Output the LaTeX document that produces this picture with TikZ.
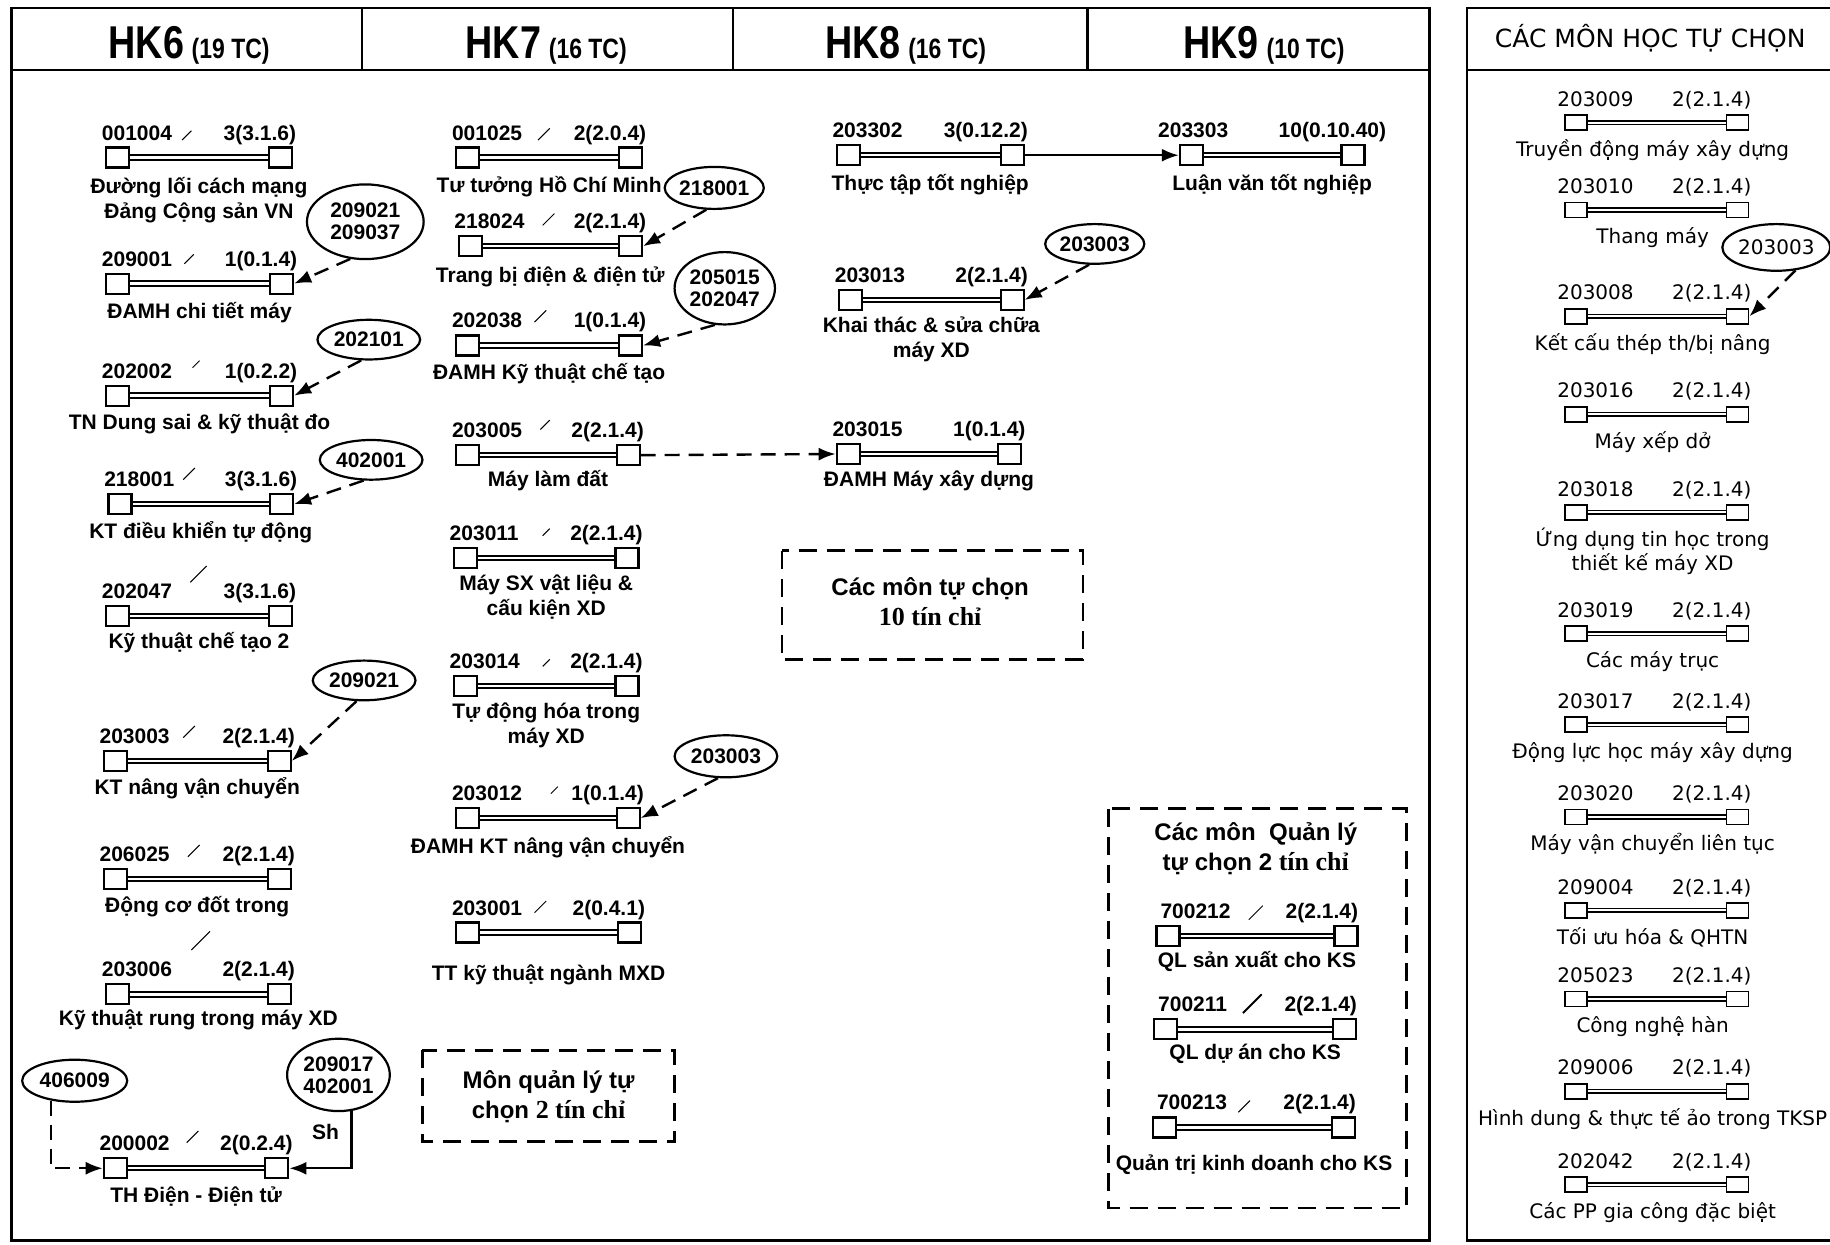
\documentclass[tikz,border=0pt]{standalone}
\usepackage{fontspec}
\setmainfont{Liberation Sans}
\newfontfamily\hkfont[FakeStretch=0.82]{Liberation Sans}
\newfontfamily\rpfont{DejaVu Sans}
\newfontfamily\srf{Liberation Serif}
\usetikzlibrary{shapes.geometric,arrows.meta}

\tikzset{
 sqbox/.style={draw, line width=1.1pt, fill=white, minimum width=11.5pt, minimum height=10pt, inner sep=0pt},
 rsqbox/.style={draw, line width=0.9pt, fill=white, minimum width=11pt, minimum height=7.5pt, inner sep=0pt},
 barline/.style={line width=1pt, double=white, double distance=1.2pt},
 rbarline/.style={line width=0.8pt, double=white, double distance=1pt},
 codetxt/.style={font=\bfseries\fontsize{10.5}{12}\selectfont, inner sep=0pt},
 nametxt/.style={font=\bfseries\fontsize{10.5}{12}\selectfont, inner sep=0pt},
 rtxt/.style={font=\rpfont\fontsize{10}{11}\selectfont, inner sep=0pt},
 bsize/.style 2 args={minimum width=#1*0.58355pt, minimum height=#2*0.58355pt},
 bubble/.style={ellipse, draw, line width=1.1pt, inner sep=0pt, align=center, font=\bfseries\fontsize{10.5}{11}\selectfont},
 dep/.style={line width=1.2pt, dash pattern=on 7.5pt off 4.5pt, -{Latex[length=8.5pt,width=6.5pt]}},
 req/.style={line width=1.1pt, -{Latex[length=8.5pt,width=6.5pt]}},
 dbox/.style={draw, line width=1.4pt, dash pattern=on 9pt off 5pt},
 frame/.style={line width=1.3pt},
 scratch/.style={line width=0.5pt},
 boxtxt/.style={font=\bfseries\fontsize{12}{14}\selectfont, inner sep=0pt},
}

\def\cxl{3}\def\cxr{3}
\newcommand\mkcourse[8]{%
 \node[sqbox, anchor=west] (#1a) at (#2,#4) {};
 \node[sqbox, anchor=east] (#1b) at (#3,#4) {};
 \draw[barline] (#1a.east) -- (#1b.west);
 \node[codetxt, anchor=base west] (#1c) at (#2-\cxl,#4-15) {#5};
 \node[codetxt, anchor=base east] (#1k) at (#3+\cxr,#4-15) {#6};
 \node[nametxt, anchor=base] (#1n) at ({(#2+#3)/2},#8) {#7};
}
\newcommand\mkopt[4]{%
 \node[rsqbox, anchor=west] (#1a) at (1340,#2) {};
 \node[rsqbox, anchor=east] (#1b) at (1499,#2) {};
 \draw[rbarline] (#1a.east) -- (#1b.west);
 \node[rtxt, anchor=base west] (#1c) at (1334,#2-14) {#3};
 \node[rtxt, anchor=base east] (#1k) at (1501,#2-14) {2(2.1.4)};
 \node[rtxt, anchor=base] (#1n) at (1416,#2+29) {#4};
}
\newcommand\mkslash[3]{\draw[scratch] (#1-#3,#2+#3) -- (#1+#3,#2-#3);}
\newcommand\hkhead[2]{\hkfont\bfseries\fontsize{23}{23}\selectfont #1\,\fontsize{14}{14}\selectfont(#2 TC)}

\begin{document}
\begin{tikzpicture}[x=0.58355pt, y=-0.58355pt]
\useasboundingbox (0,0) rectangle (1568,1066);

% frames
\draw[frame] (10,7) rectangle (1225,1063);
\draw[frame] (10,60) -- (1225,60);
\draw[frame] (310,7) -- (310,60);
\draw[frame] (628,7) -- (628,60);
\draw[frame] (932,7) -- (932,60);
\draw[frame] (1568,7) -- (1257,7) -- (1257,1063) -- (1568,1063);
\draw[frame] (1257,60) -- (1568,60);

% headers
\node[anchor=base, inner sep=0pt] (hk6) at (162,50) {\hkhead{HK6}{19}};
\node[anchor=base, inner sep=0pt] (hk7) at (468,50) {\hkhead{HK7}{16}};
\node[anchor=base, inner sep=0pt] (hk8) at (776,50) {\hkhead{HK8}{16}};
\node[anchor=base, inner sep=0pt] (hk9) at (1083,50) {\hkhead{HK9}{10}};
\node[anchor=base, inner sep=0pt, font=\rpfont\fontsize{12.5}{14}\selectfont] (hopt) at (1414,41) {CÁC MÔN HỌC TỰ CHỌN};

% HK6
\mkcourse{h6a}{90}{251}{135}{001004}{3(3.1.6)}{Đường lối cách mạng}{166}
\node[nametxt, anchor=base] (h6a2) at (170.5,187) {Đảng Cộng sản VN};
\mkcourse{h6b}{90}{252}{243}{209001}{1(0.1.4)}{ĐAMH chi tiết máy}{273}
\mkcourse{h6c}{90}{252}{339}{202002}{1(0.2.2)}{TN Dung sai \& kỹ thuật đo}{368}
\mkcourse{h6d}{92}{252}{432}{218001}{3(3.1.6)}{KT điều khiển tự động}{461}
\mkcourse{h6e}{90}{251}{528}{202047}{3(3.1.6)}{Kỹ thuật chế tạo 2}{556}
\mkcourse{h6f}{88}{250}{652}{203003}{2(2.1.4)}{KT nâng vận chuyển}{681}
\mkcourse{h6g}{88}{250}{753}{206025}{2(2.1.4)}{Động cơ đốt trong}{782}
\mkcourse{h6h}{90}{250}{852}{203006}{2(2.1.4)}{Kỹ thuật rung trong máy XD}{879}
\mkcourse{h6i}{88}{248}{1001}{200002}{2(0.2.4)}{TH Điện - Điện tử}{1030}

% HK7
\mkcourse{h7a}{390}{551}{135}{001025}{2(2.0.4)}{Tư tưởng Hồ Chí Minh}{165}
\mkcourse{h7b}{392}{551}{211}{218024}{2(2.1.4)}{Trang bị điện \& điện tử}{242}
\mkcourse{h7c}{390}{551}{296}{202038}{1(0.1.4)}{ĐAMH Kỹ thuật chế tạo}{325}
\mkcourse{h7d}{390}{549}{390}{203005}{2(2.1.4)}{Máy làm đất}{417}
\mkcourse{h7e}{388}{548}{478}{203011}{2(2.1.4)}{Máy SX vật liệu \&}{506}
\node[nametxt, anchor=base] (h7e2) at (468,527) {cấu kiện XD};
\mkcourse{h7f}{388}{548}{588}{203014}{2(2.1.4)}{Tự động hóa trong}{616}
\node[nametxt, anchor=base] (h7f2) at (468,637) {máy XD};
\mkcourse{h7g}{390}{549}{701}{203012}{1(0.1.4)}{ĐAMH KT nâng vận chuyển}{731}
\mkcourse{h7h}{390}{550}{799}{203001}{2(0.4.1)}{TT kỹ thuật ngành MXD}{840}

% HK8
\mkcourse{h8a}{716}{878}{133}{203302}{3(0.12.2)}{Thực tập tốt nghiệp}{163}
\mkcourse{h8b}{718}{878}{257}{203013}{2(2.1.4)}{Khai thác \& sửa chữa}{285}
\node[nametxt, anchor=base] (h8b2) at (798,306) {máy XD};
\mkcourse{h8c}{716}{876}{389}{203015}{1(0.1.4)}{ĐAMH Máy xây dựng}{417}

% HK9
{\def\cxl{18}\def\cxr{18}
\mkcourse{h9a}{1010}{1170}{133}{203303}{10(0.10.40)}{Luận văn tốt nghiệp}{163}}

% management box items
{\def\cxl{-4}\def\cxr{0}
\mkcourse{q1}{990}{1164}{802}{700212}{2(2.1.4)}{QL sản xuất cho KS}{829}
\mkcourse{q2}{988}{1163}{882}{700211}{2(2.1.4)}{QL dự án cho KS}{908}
\mkcourse{q3}{987}{1162}{966}{700213}{2(2.1.4)}{Quản trị kinh doanh cho KS}{1003}}

% dashed boxes
\draw[dbox] (362,900) rectangle (578,978);
\node[boxtxt, anchor=base] (t7a) at (470,933) {Môn quản lý tự};
\node[boxtxt, anchor=base] (t7b) at (470,958) {chọn {\srf\fontsize{13}{14}\selectfont 2 tín chỉ}};
\draw[dbox] (670,472) rectangle (928,565);
\node[boxtxt, anchor=base] (t8a) at (797,510) {Các môn tự chọn};
\node[boxtxt, anchor=base] (t8b) at (797,536) {\srf\fontsize{13}{14}\selectfont 10 tín chỉ};
\draw[dbox] (950,693) rectangle (1205,1035);
\node[boxtxt, anchor=base] (t9a) at (1076,720) {Các môn\ \ Quản lý};
\node[boxtxt, anchor=base] (t9b) at (1076,746) {tự chọn 2 {\srf\fontsize{13}{14}\selectfont tín chỉ}};

% elective panel
\mkopt{r1}{105}{203009}{Truyền động máy xây dựng}
\mkopt{r2}{180}{203010}{Thang máy}
\mkopt{r3}{271}{203008}{Kết cấu thép th/bị nâng}
\mkopt{r4}{355}{203016}{Máy xếp dở}
\mkopt{r5}{439}{203018}{Ứng dụng tin học trong}
\node[rtxt, anchor=base] (r5n2) at (1416,489) {thiết kế máy XD};
\mkopt{r6}{543}{203019}{Các máy trục}
\mkopt{r7}{621}{203017}{Động lực học máy xây dựng}
\mkopt{r8}{700}{203020}{Máy vận chuyển liên tục}
\mkopt{r9}{780}{209004}{Tối ưu hóa \& QHTN}
\mkopt{r10}{856}{205023}{Công nghệ hàn}
\mkopt{r11}{935}{209006}{Hình dung \& thực tế ảo trong TKSP}
\mkopt{r12}{1015}{202042}{Các PP gia công đặc biệt}

% prerequisite bubbles
\node[bubble, bsize={100}{64}] (eA) at (313,190) {209021\\209037};
\node[bubble, bsize={88}{34}] (eB) at (316,291) {202101};
\node[bubble, bsize={88}{34}] (eC) at (318,394) {402001};
\node[bubble, bsize={88}{34}] (eD) at (312,583) {209021};
\node[bubble, bsize={82}{36}] (eE) at (612,161) {218001};
\node[bubble, bsize={86}{62}] (eF) at (621,247) {205015\\202047};
\node[bubble, bsize={88}{36}] (eG) at (622,648) {203003};
\node[bubble, bsize={80}{34}] (eH) at (938,209) {203003};
\node[bubble, bsize={88}{40}, font=\rpfont\fontsize{10}{11}\selectfont] (eI) at (1522,212) {203003};
\node[bubble, bsize={90}{36}] (eJ) at (64,926) {406009};
\node[bubble, bsize={88}{62}] (eK) at (290,921) {209017\\402001};

% connectors
\draw[dep] (eA.-112) -- (h6bb.east);
\draw[dep] (eB.-110) -- (h6cb.east);
\draw[dep] (eC.-110) -- (h6db.east);
\draw[dep] (eD.-110) -- (h6fb.east);
\draw[dep] (eE.-110) -- (h7bb.east);
\draw[dep] (eF.-105) -- (h7cb.east);
\draw[dep] (eG.-110) -- (h7gb.east);
\draw[dep] (eH.-105) -- (h8bb.east);
\draw[dep] (eI.-50) -- (r3b.east);
\draw[dep] (eJ.-140) |- (h6ia.west);
\draw[req] (eK.-70) |- (h6ib.east);
\node[codetxt, anchor=base] (sh) at (279,976) {Sh};
\draw[dep] (h7db.east) -- (h8ca.west);
\draw[req] (h8ab.east) -- (h9aa.west);

% small slash marks
\mkslash{160}{116}{4}
\mkslash{162}{222}{4}
\mkslash{168}{312}{3}
\mkslash{162}{406}{5}
\mkslash{170}{492}{7}
\mkslash{162}{627}{5}
\mkslash{166}{729}{5}
\mkslash{172}{806}{8}
\mkslash{165}{974}{5}
\mkslash{466}{115}{5}
\mkslash{470}{188}{5}
\mkslash{463}{271}{5}
\mkslash{467}{364}{4}
\mkslash{468}{456}{3}
\mkslash{468}{568}{3}
\mkslash{475}{677}{3}
\mkslash{463}{777}{5}
\mkslash{1076}{782}{6}
\draw[line width=1pt] (1065,868) -- (1081,852);
\mkslash{1066}{948}{5}
\end{tikzpicture}
\end{document}
